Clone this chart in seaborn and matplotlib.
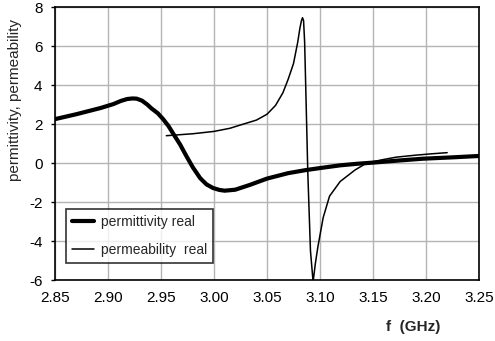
import numpy as np
import pandas as pd
import matplotlib
matplotlib.use("Agg")
import matplotlib.pyplot as plt
import seaborn as sns

# Data
perm_f = [2.850, 2.870, 2.893, 2.905, 2.912, 2.918, 2.923, 2.927, 2.932, 2.937, 2.941,
          2.947, 2.952, 2.957, 2.961, 2.968, 2.974, 2.980, 2.987, 2.993, 2.999, 3.005,
          3.010, 3.020, 3.034, 3.050, 3.070, 3.087, 3.100, 3.119, 3.135, 3.150, 3.175,
          3.197, 3.225, 3.250]
perm_v = [2.25, 2.50, 2.82, 3.02, 3.18, 3.28, 3.31, 3.30, 3.20, 3.00, 2.80,
          2.55, 2.25, 1.90, 1.55, 0.95, 0.35, -0.22, -0.78, -1.10, -1.28, -1.38,
          -1.42, -1.37, -1.12, -0.80, -0.52, -0.36, -0.26, -0.12, -0.04, 0.02, 0.13,
          0.22, 0.29, 0.36]

mu_f = [2.955, 2.980, 3.000, 3.015, 3.025, 3.040, 3.050, 3.058, 3.065, 3.070, 3.075,
        3.079, 3.081, 3.0825, 3.0835, 3.0845, 3.0855, 3.0865, 3.0885, 3.091, 3.0935,
        3.0955, 3.098, 3.103, 3.109, 3.119, 3.133, 3.144, 3.160, 3.172, 3.190, 3.205,
        3.220]
mu_v = [1.40, 1.50, 1.62, 1.78, 1.95, 2.20, 2.50, 2.95, 3.60, 4.30, 5.10,
        6.20, 6.90, 7.30, 7.45, 7.30, 6.20, 4.00, -0.50, -4.50, -6.10,
        -5.20, -4.30, -2.80, -1.70, -0.95, -0.36, 0.00, 0.18, 0.30, 0.40, 0.47,
        0.53]

xticks = [2.85, 2.90, 2.95, 3.00, 3.05, 3.10, 3.15, 3.20, 3.25]
yticks = [-6, -4, -2, 0, 2, 4, 6, 8]

df1 = pd.DataFrame({"f": perm_f, "v": perm_v})
df2 = pd.DataFrame({"f": mu_f, "v": mu_v})

sns.set_theme(style="white")
plt.rcParams['font.family'] = ['Liberation Sans', 'DejaVu Sans']

fig = plt.figure(figsize=(4.95, 3.41), dpi=100)
ax = fig.add_axes([55/495, 1 - 280/341, 424/495, 273/341])

sns.lineplot(data=df1, x="f", y="v", ax=ax, color="black", linewidth=3.0,
             label="permittivity real", sort=False)
sns.lineplot(data=df2, x="f", y="v", ax=ax, color="black", linewidth=1.1,
             label="permeability  real", sort=False)

ax.set_xlim(2.85, 3.25)
ax.set_ylim(-6, 8)
ax.set_xticks(xticks)
ax.set_xticklabels([f"{t:.2f}" for t in xticks])
ax.set_yticks(yticks)
ax.set_yticklabels([str(t) for t in yticks])
ax.grid(True, color="#b4b4b4", linewidth=1.0)
ax.set_axisbelow(True)
for s in ax.spines.values():
    s.set_color("black")
    s.set_linewidth(1.2)
ax.tick_params(axis="both", labelsize=11, colors="black", width=1,
               direction="out")
ax.tick_params(axis="x", length=0, pad=8)
ax.tick_params(axis="y", left=True, length=3, pad=6)

ax.set_ylabel("permittivity, permeability", fontsize=11, va="center")
ax.yaxis.set_label_coords(-0.094, 0.66)
ax.set_xlabel("f  (GHz)", fontsize=11, fontweight="bold", va="center")
ax.xaxis.set_label_coords(0.845, -0.172)

leg = ax.legend(loc="lower left", bbox_to_anchor=(0.026, 0.062), fontsize=10,
                frameon=True, fancybox=False, edgecolor="black",
                borderpad=0.45, handlelength=1.6, handletextpad=0.45,
                labelspacing=1.0, borderaxespad=0)
leg.get_frame().set_linewidth(1.2)

fig.savefig("out.png", dpi=100)
